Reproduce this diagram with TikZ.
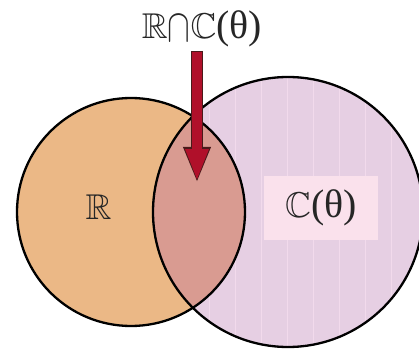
\RequirePackage{fix-cm}
\documentclass[tikz,border=0pt]{standalone}
\usepackage{amssymb}
\usepackage{graphicx}
\usepackage{fontspec}
\setmainfont{Liberation Serif}
\usetikzlibrary{arrows.meta,positioning}

\definecolor{realfill}{HTML}{EBB886}
\definecolor{cthfill}{HTML}{E6CFE3}
\definecolor{capfill}{HTML}{D99B91}
\definecolor{boxfill}{HTML}{FAE1EC}
\definecolor{stripe}{HTML}{F2DAEC}
\definecolor{arrowred}{HTML}{B0102A}
\definecolor{arrowrim}{HTML}{4A1A1A}

\newcommand{\argth}{{\fontsize{40}{44}\selectfont(θ)}}
\newcommand{\meet}{\raisebox{-3bp}{\scalebox{0.95}[1.3]{$\cap$}}}

\begin{document}
\begin{tikzpicture}[
    x=1bp,y=1bp,
    setcirc/.style={line width=2.3bp,draw=black},
    setlabel/.style={font=\fontsize{36}{40}\selectfont,text=black!85,inner sep=0pt},
    pointerrim/.style={line width=12bp,draw=arrowrim,-{Triangle[length=36bp,width=25bp]}},
    pointer/.style={line width=9.5bp,draw=arrowred,shorten <=1.2bp,shorten >=1.8bp,-{Triangle[length=32bp,width=21bp]}}
]
    \useasboundingbox (0,0) rectangle (419,354);

    % the two sets
    \coordinate (rc) at (131,142);
    \coordinate (cc) at (288,142);
    \fill[realfill] (rc) circle[radius=114];
    \fill[cthfill] (cc) circle[radius=135];
    \begin{scope}
        \clip (cc) circle[radius=135];
        \foreach \x in {209,235,...,410} {
            \draw[stripe,line width=1bp] (\x,0) -- (\x,354);
        }
    \end{scope}
    \begin{scope}
        \clip (rc) circle[radius=114];
        \fill[capfill] (cc) circle[radius=135];
    \end{scope}
    \draw[setcirc] (rc) circle[radius=114];
    \draw[setcirc] (cc) circle[radius=135];

    % labels
    \node[setlabel] (R) at (98.5,146.5) {$\mathbb{R}$};
    \node[setlabel,fill=boxfill,minimum width=114bp,minimum height=63bp] (C) at (321,146) {$\mathbb{C}$\argth};
    \node[setlabel] (RC) at (202,325) {$\mathbb{R}$\meet$\mathbb{C}$\argth};

    % pointer into the intersection
    \coordinate (tail) at (197,303);
    \coordinate (tip) at (197,171);
    \draw[pointerrim] (tail) -- (tip);
    \draw[pointer] (tail) -- (tip);
\end{tikzpicture}
\end{document}
